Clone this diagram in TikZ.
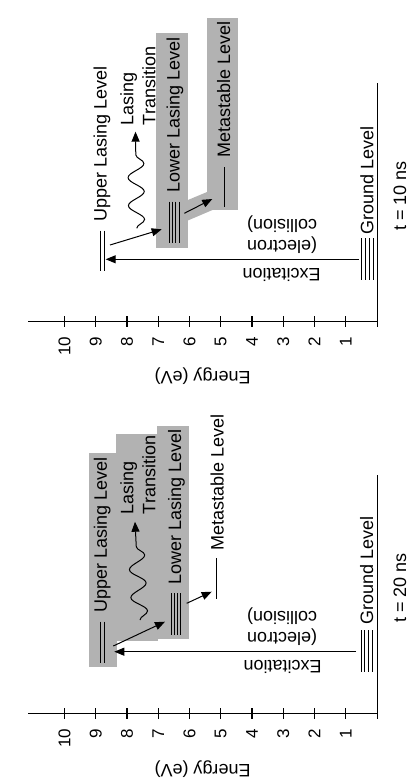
\documentclass[tikz,border=0pt]{standalone}
\usepackage{fontspec}
\setmainfont{Liberation Sans}
\usepackage{xcolor}
\usetikzlibrary{arrows.meta,decorations.pathmorphing}
\definecolor{shadegray}{gray}{0.7}
\tikzset{
  lbl/.style={rotate=90, anchor=base west, inner sep=0pt, font=\fontsize{18}{22}\selectfont},
  twolbl/.style={rotate=90, anchor=north west, align=left, inner sep=0pt, font=\fontsize{18}{22}\selectfont},
  flip/.style={rotate=180, align=left, inner sep=0pt, font=\fontsize{18}{21}\selectfont},
  num/.style={rotate=90, anchor=east, inner sep=0pt, font=\fontsize{17}{17}\selectfont},
  lvl/.style={line width=1pt},
  axisline/.style={line width=1.3pt},
  arr/.style={line width=1pt, -{Triangle[length=10pt,width=8pt]}},
  wave/.style={arr, decorate, decoration={snake, amplitude=8pt, segment length=28pt, post length=12pt, mirror}},
}
\begin{document}
\begin{tikzpicture}[x=1pt, y=-1pt]
\useasboundingbox (0,0) rectangle (419,779);
\fill[shadegray] (156,33.3) rectangle (187.5,248);
\fill[shadegray] (207,18.3) rectangle (238,210);
\fill[shadegray] (186,200.8) -- (208,191.6) -- (212.5,210) -- (186,221.3) -- cycle;
\draw[axisline] (28,321.3) -- (377.3,321.3);
\draw[axisline] (377.3,83) -- (377.3,327);
\draw[axisline] (64.4,316) -- (64.4,327);
\node[num] (numA10) at (64.4,336.5) {10};
\draw[axisline] (95.7,316) -- (95.7,327);
\node[num] (numA9) at (95.7,336.5) {9};
\draw[axisline] (127.1,316) -- (127.1,327);
\node[num] (numA8) at (127.1,336.5) {8};
\draw[axisline] (158.3,316) -- (158.3,327);
\node[num] (numA7) at (158.3,336.5) {7};
\draw[axisline] (189.5,316) -- (189.5,327);
\node[num] (numA6) at (189.5,336.5) {6};
\draw[axisline] (220.7,316) -- (220.7,327);
\node[num] (numA5) at (220.7,336.5) {5};
\draw[axisline] (252,316) -- (252,327);
\node[num] (numA4) at (252,336.5) {4};
\draw[axisline] (283.3,316) -- (283.3,327);
\node[num] (numA3) at (283.3,336.5) {3};
\draw[axisline] (314.5,316) -- (314.5,327);
\node[num] (numA2) at (314.5,336.5) {2};
\draw[axisline] (345.8,316) -- (345.8,327);
\node[num] (numA1) at (345.8,336.5) {1};
\node[flip] (energyA) at (202.5,375.8) {Energy (eV)};
\draw[lvl] (100.3,230.7) -- (100.3,270.7);
\draw[lvl] (104,230.7) -- (104,270.7);
\draw[lvl] (169.3,201.7) -- (169.3,243.3);
\draw[lvl] (172.5,201.7) -- (172.5,243.3);
\draw[lvl] (175.7,201.7) -- (175.7,243.3);
\draw[lvl] (179,201.7) -- (179,243.3);
\draw[lvl] (224.3,167) -- (224.3,206.7);
\draw[lvl] (361.7,238.3) -- (361.7,280);
\draw[lvl] (365.6,238.3) -- (365.6,280);
\draw[lvl] (369.5,238.3) -- (369.5,280);
\draw[lvl] (373.4,238.3) -- (373.4,280);
\node[lbl] (upperA) at (106.5,221.5) {Upper Lasing Level};
\node[twolbl] (transA) at (120.1,125.5) {Lasing\\Transition};
\node[lbl] (lowerA) at (179.5,193) {Lower Lasing Level};
\node[lbl] (metaA) at (230,158) {Metastable Level};
\node[lbl] (groundA) at (373.3,234.5) {Ground Level};
\node[lbl] (timeA) at (406,231) {t = 10 ns};
\node[flip] (excA) at (281.7,274.8) {Excitation};
\node[flip] (collA) at (282,234.7) {(electron\\collision)};
\coordinate (gsA) at (359,259.3);
\coordinate (usA) at (105.7,259.3);
\coordinate (uoA) at (110,245);
\coordinate (liA) at (161.7,229.3);
\coordinate (loA) at (184.3,213.3);
\coordinate (miA) at (212.3,199);
\coordinate (wbA) at (136.7,228.3);
\coordinate (wtA) at (135.5,131.7);
\draw[arr] (gsA) -- (usA);
\draw[arr] (uoA) -- (liA);
\draw[arr] (loA) -- (miA);
\draw[wave] (wbA) -- (wtA);
\begin{scope}[shift={(0,392)}]
\fill[shadegray] (89,61.3) rectangle (116.5,274.7);
\fill[shadegray] (115.5,42) rectangle (157.5,249);
\fill[shadegray] (156.5,34) rectangle (189,247);
\draw[axisline] (28,321.3) -- (377.3,321.3);
\draw[axisline] (377.3,83) -- (377.3,327);
\draw[axisline] (64.4,316) -- (64.4,327);
\node[num] (numB10) at (64.4,336.5) {10};
\draw[axisline] (95.7,316) -- (95.7,327);
\node[num] (numB9) at (95.7,336.5) {9};
\draw[axisline] (127.1,316) -- (127.1,327);
\node[num] (numB8) at (127.1,336.5) {8};
\draw[axisline] (158.3,316) -- (158.3,327);
\node[num] (numB7) at (158.3,336.5) {7};
\draw[axisline] (189.5,316) -- (189.5,327);
\node[num] (numB6) at (189.5,336.5) {6};
\draw[axisline] (220.7,316) -- (220.7,327);
\node[num] (numB5) at (220.7,336.5) {5};
\draw[axisline] (252,316) -- (252,327);
\node[num] (numB4) at (252,336.5) {4};
\draw[axisline] (283.3,316) -- (283.3,327);
\node[num] (numB3) at (283.3,336.5) {3};
\draw[axisline] (314.5,316) -- (314.5,327);
\node[num] (numB2) at (314.5,336.5) {2};
\draw[axisline] (345.8,316) -- (345.8,327);
\node[num] (numB1) at (345.8,336.5) {1};
\node[flip] (energyB) at (202.5,377.2) {Energy (eV)};
\draw[lvl] (100.7,229.7) -- (100.7,271.3);
\draw[lvl] (104,229.7) -- (104,271.3);
\draw[lvl] (171.7,201.3) -- (171.7,243);
\draw[lvl] (174.7,201.3) -- (174.7,243);
\draw[lvl] (177.7,201.3) -- (177.7,243);
\draw[lvl] (180.7,201.3) -- (180.7,243);
\draw[lvl] (216.7,166.3) -- (216.7,207.3);
\draw[lvl] (361,238) -- (361,279.7);
\draw[lvl] (364.9,238) -- (364.9,279.7);
\draw[lvl] (368.8,238) -- (368.8,279.7);
\draw[lvl] (372.7,238) -- (372.7,279.7);
\node[lbl] (upperB) at (106.8,221) {Upper Lasing Level};
\node[twolbl] (transB) at (120.1,122.5) {Lasing\\Transition};
\node[lbl] (lowerB) at (181,192.5) {Lower Lasing Level};
\node[lbl] (metaB) at (223.5,159) {Metastable Level};
\node[lbl] (groundB) at (373,232.5) {Ground Level};
\node[lbl] (timeB) at (406,231) {t = 20 ns};
\node[flip] (excB) at (282.5,274.7) {Excitation};
\node[flip] (collB) at (282,234.5) {(electron\\collision)};
\coordinate (gsB) at (356,259.7);
\coordinate (usB) at (114.3,259.7);
\coordinate (uoB) at (113.3,254);
\coordinate (liB) at (165,229.7);
\coordinate (loB) at (186.7,211.3);
\coordinate (miB) at (211.7,199.7);
\coordinate (wbB) at (140,228);
\coordinate (wtB) at (135,129.7);
\draw[arr] (gsB) -- (usB);
\draw[arr] (uoB) -- (liB);
\draw[arr] (loB) -- (miB);
\draw[wave] (wbB) -- (wtB);
\end{scope}
\end{tikzpicture}
\end{document}
